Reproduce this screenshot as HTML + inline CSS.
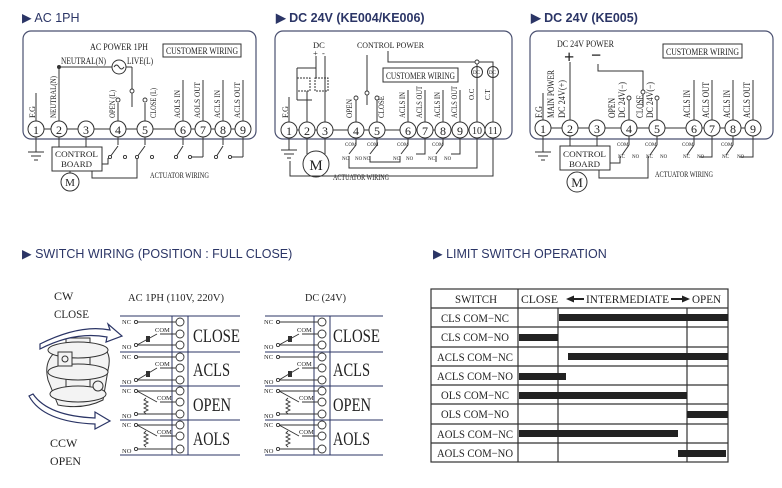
<!DOCTYPE html>
<html><head><meta charset="utf-8"><style>
html,body{margin:0;padding:0;background:#fff;}
svg{display:block;}
.h{font-family:"Liberation Sans",sans-serif;font-size:12.5px;fill:#2b3566;}
.s{font-family:"Liberation Serif",serif;fill:#222;}
</style></head><body>
<svg width="782" height="488" viewBox="0 0 782 488" xmlns="http://www.w3.org/2000/svg">
<g class="h">
<text x="22" y="22">▶  AC 1PH</text>
<text x="276" y="22" font-weight="bold">▶  DC 24V (KE004/KE006)</text>
<text x="531" y="22" font-weight="bold">▶  DC 24V (KE005)</text>
<text x="22" y="258">▶  SWITCH WIRING (POSITION : FULL CLOSE)</text>
<text x="433" y="258">▶  LIMIT SWITCH OPERATION</text>
</g>

<g fill="none" stroke="#4a5070" stroke-width="1.2">
<rect x="23" y="31" width="233" height="108" rx="8"/>
<rect x="275" y="31" width="237" height="108" rx="8"/>
<rect x="530" y="31" width="243" height="108" rx="8"/>
</g>

<!-- ===== BOX 1 ===== -->
<g stroke="#333" stroke-width="1" fill="none">
<line x1="36" y1="129" x2="243" y2="129"/>
<line x1="59" y1="67" x2="59" y2="121"/>
<line x1="59" y1="67" x2="112" y2="67"/>
<circle cx="119" cy="67" r="7"/>
<path d="M114 67 q2.5 -4 5 0 t5 0"/>
<line x1="126" y1="67" x2="132" y2="67"/><line x1="132" y1="67" x2="132" y2="107"/>
<line x1="36" y1="93" x2="36" y2="121"/>
<line x1="118" y1="103" x2="118" y2="121"/><line x1="145" y1="103" x2="145" y2="121"/>
<line x1="183" y1="80" x2="183" y2="121"/><line x1="203" y1="80" x2="203" y2="121"/>
<line x1="223" y1="80" x2="223" y2="121"/><line x1="243" y1="80" x2="243" y2="121"/>
<rect x="163" y="44" width="78" height="13"/>
<line x1="36" y1="137" x2="36" y2="152"/>
<line x1="28" y1="152" x2="44" y2="152"/><line x1="31" y1="156" x2="41" y2="156"/><line x1="34" y1="160" x2="38" y2="160"/>
<rect x="52" y="147" width="50" height="24"/>
<circle cx="70" cy="182" r="9"/>
<line x1="70" y1="171" x2="70" y2="173"/>
<line x1="59" y1="137" x2="59" y2="147"/><line x1="86" y1="137" x2="86" y2="147"/>
<line x1="118" y1="137" x2="118" y2="145"/><line x1="145" y1="137" x2="145" y2="145"/>
<line x1="183" y1="137" x2="183" y2="145"/><line x1="203" y1="137" x2="203" y2="157"/>
<line x1="223" y1="137" x2="223" y2="145"/><line x1="243" y1="137" x2="243" y2="157"/>
<line x1="118" y1="146" x2="110" y2="157"/><line x1="145" y1="146" x2="137" y2="157"/>
<line x1="183" y1="146" x2="176" y2="157"/><line x1="223" y1="146" x2="216" y2="157"/>
<path d="M102 164 H108 V158"/><path d="M92 171 V178 H137 V158"/>
<line x1="190" y1="157" x2="203" y2="157"/><line x1="230" y1="157" x2="243" y2="157"/>
</g>
<g fill="#fff" stroke="#333" stroke-width="0.9">
<circle cx="118" cy="100" r="2"/><circle cx="145" cy="100" r="2"/><circle cx="132" cy="91" r="2"/>
<circle cx="125" cy="157" r="1.6"/><circle cx="152" cy="157" r="1.6"/><circle cx="190" cy="157" r="1.6"/><circle cx="230" cy="157" r="1.6"/>
<circle cx="110" cy="157" r="1.6"/><circle cx="137" cy="157" r="1.6"/><circle cx="176" cy="157" r="1.6"/><circle cx="216" cy="157" r="1.6"/>
</g>
<circle cx="59" cy="67" r="2" fill="#333"/>
<g class="s" font-size="9" lengthAdjust="spacingAndGlyphs">
<text x="90" y="50" textLength="58" lengthAdjust="spacingAndGlyphs">AC POWER 1PH</text>
<text x="166" y="54" textLength="72" lengthAdjust="spacingAndGlyphs">CUSTOMER WIRING</text>
<text x="61" y="64" textLength="45" lengthAdjust="spacingAndGlyphs">NEUTRAL(N)</text>
<text x="127" y="64" textLength="26" lengthAdjust="spacingAndGlyphs">LIVE(L)</text>
<text x="150" y="178" font-size="8" textLength="59" lengthAdjust="spacingAndGlyphs">ACTUATOR WIRING</text>
<text x="70" y="186" font-size="11" text-anchor="middle">M</text>
<text x="55" y="157" font-size="8.5" textLength="43" lengthAdjust="spacingAndGlyphs">CONTROL</text>
<text x="61" y="167" font-size="8.5" textLength="31" lengthAdjust="spacingAndGlyphs">BOARD</text>
</g>
<g class="s" font-size="8.5">
<text transform="translate(35,118) rotate(-90)" textLength="12" lengthAdjust="spacingAndGlyphs">F.G</text>
<text transform="translate(56,118) rotate(-90)" textLength="42" lengthAdjust="spacingAndGlyphs">NEUTRAL(N)</text>
<text transform="translate(115,118) rotate(-90)" textLength="28" lengthAdjust="spacingAndGlyphs">OPEN (L)</text>
<text transform="translate(156,118) rotate(-90)" textLength="30" lengthAdjust="spacingAndGlyphs">CLOSE (L)</text>
<text transform="translate(180,118) rotate(-90)" textLength="28" lengthAdjust="spacingAndGlyphs">AOLS IN</text>
<text transform="translate(200,118) rotate(-90)" textLength="36" lengthAdjust="spacingAndGlyphs">AOLS OUT</text>
<text transform="translate(220,118) rotate(-90)" textLength="28" lengthAdjust="spacingAndGlyphs">ACLS IN</text>
<text transform="translate(240,118) rotate(-90)" textLength="36" lengthAdjust="spacingAndGlyphs">ACLS OUT</text>
</g>
<g stroke="#333" fill="#fff">
<circle cx="36" cy="129" r="8"/><circle cx="59" cy="129" r="8"/><circle cx="86" cy="129" r="8"/><circle cx="118" cy="129" r="8"/><circle cx="145" cy="129" r="8"/><circle cx="183" cy="129" r="8"/><circle cx="203" cy="129" r="8"/><circle cx="223" cy="129" r="8"/><circle cx="243" cy="129" r="8"/>
</g>
<g class="s" font-size="12" text-anchor="middle">
<text x="36" y="134">1</text><text x="59" y="134">2</text><text x="86" y="134">3</text><text x="118" y="134">4</text><text x="145" y="134">5</text><text x="183" y="134">6</text><text x="203" y="134">7</text><text x="223" y="134">8</text><text x="243" y="134">9</text>
</g>

<!-- ===== BOX 2 ===== -->
<g stroke="#333" stroke-width="1" fill="none">
<line x1="289" y1="130" x2="493" y2="130"/>
<line x1="289" y1="97" x2="289" y2="122"/>
<line x1="316" y1="56" x2="316" y2="68"/><line x1="325" y1="56" x2="325" y2="74"/>
<path d="M297 68 H316 V78"/><line x1="297" y1="68" x2="297" y2="100"/><line x1="325" y1="74" x2="325" y2="122"/>
<rect x="297" y="78" width="13" height="13" stroke-dasharray="2 1"/><rect x="315" y="78" width="13" height="13" stroke-dasharray="2 1"/>
<line x1="307" y1="91" x2="307" y2="122"/><path d="M297 100 H312"/>
<line x1="367" y1="55" x2="367" y2="105"/>
<path d="M388 51 V62 H493 V122"/><line x1="477" y1="62" x2="477" y2="122"/>
<circle cx="477" cy="72" r="5.5"/><circle cx="493" cy="72" r="5.5"/>
<rect x="383" y="68" width="75" height="14"/>
<line x1="356" y1="100" x2="356" y2="122"/><line x1="377" y1="100" x2="377" y2="122"/>
<line x1="408" y1="90" x2="408" y2="122"/><line x1="425" y1="90" x2="425" y2="122"/><line x1="443" y1="90" x2="443" y2="122"/><line x1="460" y1="90" x2="460" y2="122"/>
<line x1="289" y1="138" x2="289" y2="150"/>
<line x1="281" y1="150" x2="297" y2="150"/><line x1="284" y1="154" x2="294" y2="154"/><line x1="287" y1="158" x2="291" y2="158"/>
<circle cx="316" cy="164" r="13"/>
<line x1="307" y1="138" x2="307" y2="154"/><line x1="325" y1="138" x2="325" y2="154"/>
<line x1="356" y1="138" x2="356" y2="145"/><line x1="356" y1="145" x2="349" y2="154"/>
<line x1="377" y1="138" x2="377" y2="145"/><line x1="377" y1="145" x2="370" y2="154"/>
<line x1="408" y1="138" x2="408" y2="145"/><line x1="408" y1="145" x2="401" y2="154"/>
<line x1="443" y1="138" x2="443" y2="145"/><line x1="443" y1="145" x2="436" y2="154"/>
<path d="M425 138 V154 H416"/><path d="M460 138 V154 H451"/>
<path d="M349 156 V168 H477 V138"/><path d="M370 156 V162 H400 V156"/><path d="M436 156 V162"/>
<path d="M290 161 V176 H493 V138"/>
</g>
<g fill="#fff" stroke="#333" stroke-width="0.9">
<circle cx="367" cy="93" r="2"/><circle cx="356" cy="98" r="2"/><circle cx="377" cy="98" r="2"/><circle cx="477" cy="62" r="2"/>
</g>
<g class="s" font-size="8.5">
<text x="313" y="48">DC</text><text x="313" y="56">+</text><text x="322" y="56">-</text>
<text x="357" y="48" textLength="67" lengthAdjust="spacingAndGlyphs">CONTROL POWER</text>
<text x="386" y="79" font-size="9" textLength="69" lengthAdjust="spacingAndGlyphs">CUSTOMER WIRING</text>
<text x="333" y="180" font-size="8" textLength="56" lengthAdjust="spacingAndGlyphs">ACTUATOR WIRING</text>
<text x="316" y="170" font-size="15" text-anchor="middle">M</text>
<text x="473" y="74" font-size="5">DC</text><text x="489" y="74" font-size="5">DC</text>
<text transform="translate(288,118) rotate(-90)" textLength="12" lengthAdjust="spacingAndGlyphs">F.G</text>
<text transform="translate(352,118) rotate(-90)" textLength="19" lengthAdjust="spacingAndGlyphs">OPEN</text>
<text transform="translate(384,118) rotate(-90)" textLength="22" lengthAdjust="spacingAndGlyphs">CLOSE</text>
<text transform="translate(405,118) rotate(-90)" textLength="26" lengthAdjust="spacingAndGlyphs">ACLS IN</text>
<text transform="translate(422,118) rotate(-90)" textLength="32" lengthAdjust="spacingAndGlyphs">ACLS OUT</text>
<text transform="translate(440,118) rotate(-90)" textLength="26" lengthAdjust="spacingAndGlyphs">ACLS IN</text>
<text transform="translate(457,118) rotate(-90)" textLength="32" lengthAdjust="spacingAndGlyphs">ACLS OUT</text>
<text transform="translate(474,100) rotate(-90)" font-size="7">O.C</text>
<text transform="translate(490,100) rotate(-90)" font-size="7">C.T</text>
</g>
<g class="s" font-size="5">
<text x="345" y="146">COM</text><text x="367" y="146">COM</text><text x="397" y="146">COM</text><text x="432" y="146">COM</text>
<text x="342" y="160">NC</text><text x="355" y="160">NO</text><text x="363" y="160">NO</text><text x="393" y="160">NC</text><text x="406" y="160">NO</text><text x="428" y="160">NC</text><text x="444" y="160">NO</text>
</g>
<g stroke="#333" fill="#fff">
<circle cx="289" cy="130" r="8"/><circle cx="307" cy="130" r="8"/><circle cx="325" cy="130" r="8"/><circle cx="356" cy="130" r="8"/><circle cx="377" cy="130" r="8"/><circle cx="408" cy="130" r="8"/><circle cx="425" cy="130" r="8"/><circle cx="443" cy="130" r="8"/><circle cx="460" cy="130" r="8"/><circle cx="477" cy="130" r="8"/><circle cx="493" cy="130" r="8"/>
</g>
<g class="s" font-size="12" text-anchor="middle">
<text x="289" y="135">1</text><text x="307" y="135">2</text><text x="325" y="135">3</text><text x="356" y="135">4</text><text x="377" y="135">5</text><text x="408" y="135">6</text><text x="425" y="135">7</text><text x="443" y="135">8</text><text x="460" y="135">9</text><text x="477" y="134" font-size="10">10</text><text x="493" y="134" font-size="10">11</text>
</g>

<!-- ===== BOX 3 ===== -->
<g stroke="#333" stroke-width="1" fill="none">
<line x1="543" y1="128" x2="753" y2="128"/>
<line x1="543" y1="93" x2="543" y2="120"/>
<line x1="570" y1="62" x2="570" y2="120"/>
<path d="M598 64 V71 H643 V107"/>
<rect x="663" y="44" width="79" height="14"/>
<line x1="629" y1="100" x2="629" y2="120"/><line x1="657" y1="100" x2="657" y2="120"/>
<line x1="694" y1="80" x2="694" y2="120"/><line x1="712" y1="80" x2="712" y2="120"/><line x1="733" y1="80" x2="733" y2="120"/><line x1="753" y1="80" x2="753" y2="120"/>
<line x1="543" y1="136" x2="543" y2="152"/>
<line x1="535" y1="152" x2="551" y2="152"/><line x1="538" y1="156" x2="548" y2="156"/><line x1="541" y1="160" x2="545" y2="160"/>
<rect x="560" y="146" width="50" height="24"/>
<circle cx="577" cy="182" r="10"/>
<line x1="570" y1="136" x2="570" y2="146"/><line x1="597" y1="136" x2="597" y2="146"/>
<line x1="629" y1="136" x2="629" y2="145"/><line x1="629" y1="145" x2="622" y2="155"/>
<line x1="657" y1="136" x2="657" y2="145"/><line x1="657" y1="145" x2="650" y2="155"/>
<line x1="694" y1="136" x2="694" y2="145"/><line x1="694" y1="145" x2="687" y2="155"/>
<line x1="733" y1="136" x2="733" y2="145"/><line x1="733" y1="145" x2="726" y2="155"/>
<path d="M610 163 H620 V156"/><path d="M599 170 V178 H648 V156"/>
<path d="M700 157 H712 V136"/><path d="M740 157 H753 V136"/>
</g>
<g fill="#fff" stroke="#333" stroke-width="0.9">
<circle cx="629" cy="98" r="2"/><circle cx="657" cy="98" r="2"/><circle cx="643" cy="92" r="2"/>
</g>
<g class="s" font-size="9">
<text x="557" y="47" textLength="57" lengthAdjust="spacingAndGlyphs">DC 24V POWER</text>
<text x="564" y="63" font-size="18" font-weight="bold">+</text>
<text x="591" y="61" font-size="18" font-weight="bold">−</text>
<text x="666" y="55" textLength="73" lengthAdjust="spacingAndGlyphs">CUSTOMER WIRING</text>
<text x="563" y="157" font-size="8.5" textLength="43" lengthAdjust="spacingAndGlyphs">CONTROL</text>
<text x="569" y="167" font-size="8.5" textLength="31" lengthAdjust="spacingAndGlyphs">BOARD</text>
<text x="577" y="187" font-size="13" text-anchor="middle">M</text>
<text x="655" y="177" font-size="8" textLength="58" lengthAdjust="spacingAndGlyphs">ACTUATOR WIRING</text>
<text transform="translate(542,118) rotate(-90)" textLength="12" lengthAdjust="spacingAndGlyphs">F.G</text>
<text transform="translate(554,118) rotate(-90)" textLength="48" lengthAdjust="spacingAndGlyphs">MAIN POWER</text>
<text transform="translate(565,118) rotate(-90)" textLength="38" lengthAdjust="spacingAndGlyphs">DC 24V(+)</text>
<text transform="translate(615,118) rotate(-90)" textLength="20" lengthAdjust="spacingAndGlyphs">OPEN</text>
<text transform="translate(625,118) rotate(-90)" textLength="36" lengthAdjust="spacingAndGlyphs">DC 24V(−)</text>
<text transform="translate(643,118) rotate(-90)" textLength="23" lengthAdjust="spacingAndGlyphs">CLOSE</text>
<text transform="translate(653,118) rotate(-90)" textLength="36" lengthAdjust="spacingAndGlyphs">DC 24V(−)</text>
<text transform="translate(690,118) rotate(-90)" textLength="28" lengthAdjust="spacingAndGlyphs">ACLS IN</text>
<text transform="translate(709,118) rotate(-90)" textLength="36" lengthAdjust="spacingAndGlyphs">ACLS OUT</text>
<text transform="translate(730,118) rotate(-90)" textLength="28" lengthAdjust="spacingAndGlyphs">ACLS IN</text>
<text transform="translate(750,118) rotate(-90)" textLength="36" lengthAdjust="spacingAndGlyphs">ACLS OUT</text>
</g>
<g class="s" font-size="5">
<text x="617" y="146">COM</text><text x="645" y="146">COM</text><text x="682" y="146">COM</text><text x="721" y="146">COM</text>
<text x="618" y="158">NC</text><text x="632" y="158">NO</text><text x="646" y="158">NC</text><text x="660" y="158">NO</text><text x="683" y="158">NC</text><text x="697" y="158">NO</text><text x="722" y="158">NC</text><text x="737" y="158">NO</text>
</g>
<g stroke="#333" fill="#fff">
<circle cx="543" cy="128" r="8"/><circle cx="570" cy="128" r="8"/><circle cx="597" cy="128" r="8"/><circle cx="629" cy="128" r="8"/><circle cx="657" cy="128" r="8"/><circle cx="694" cy="128" r="8"/><circle cx="712" cy="128" r="8"/><circle cx="733" cy="128" r="8"/><circle cx="753" cy="128" r="8"/>
</g>
<g class="s" font-size="12" text-anchor="middle">
<text x="543" y="133">1</text><text x="570" y="133">2</text><text x="597" y="133">3</text><text x="629" y="133">4</text><text x="657" y="133">5</text><text x="694" y="133">6</text><text x="712" y="133">7</text><text x="733" y="133">8</text><text x="753" y="133">9</text>
</g>

<!-- ===== SWITCH WIRING ===== -->
<g class="s" font-size="12">
<text x="54" y="300">CW</text><text x="54" y="318" textLength="35" lengthAdjust="spacingAndGlyphs">CLOSE</text>
<text x="50" y="447">CCW</text><text x="50" y="465" textLength="31" lengthAdjust="spacingAndGlyphs">OPEN</text>
<text x="128" y="301" font-size="11" textLength="96" lengthAdjust="spacingAndGlyphs">AC 1PH (110V, 220V)</text>
<text x="305" y="301" font-size="11" textLength="41" lengthAdjust="spacingAndGlyphs">DC (24V)</text>
</g>
<!-- actuator sketch -->
<g stroke="#333" stroke-width="1" fill="#f3f3f3">
<path d="M48 380 q-5 -20 10 -30 l40 -5 q15 5 10 25 l-5 30 q-20 10 -45 5 z"/>
<rect x="66" y="338" width="24" height="60"/>
<ellipse cx="78" cy="350" rx="30" ry="8"/>
<ellipse cx="78" cy="372" rx="30" ry="8"/>
<ellipse cx="78" cy="394" rx="28" ry="8"/>
<rect x="58" y="352" width="14" height="14"/>
<circle cx="65" cy="359" r="3"/>
<circle cx="98" cy="386" r="5"/>
</g>
<g stroke="#2b3566" stroke-width="1.2" fill="#fff">
<path d="M40 344 q40 -20 70 -14 l-2 -6 l14 12 l-16 6 l1 -5 q-32 -6 -67 12 z"/>
<path d="M33 394 q15 22 62 24 l0 -6 l15 9 l-15 8 l0 -5 q-52 -2 -66 -28 z"/>
</g>

<!-- switch tables -->
<g stroke="#2b3566" stroke-width="1" fill="none">
<line x1="120" y1="316" x2="240" y2="316"/><line x1="120" y1="352" x2="240" y2="352"/><line x1="120" y1="386" x2="240" y2="386"/><line x1="120" y1="420" x2="240" y2="420"/><line x1="120" y1="455" x2="240" y2="455"/>
<line x1="172" y1="316" x2="172" y2="455"/><line x1="188" y1="316" x2="188" y2="455"/>
<line x1="265" y1="316" x2="383" y2="316"/><line x1="265" y1="352" x2="383" y2="352"/><line x1="265" y1="386" x2="383" y2="386"/><line x1="265" y1="420" x2="383" y2="420"/><line x1="265" y1="455" x2="383" y2="455"/>
<line x1="314" y1="316" x2="314" y2="455"/><line x1="330" y1="316" x2="330" y2="455"/>
</g>
<g stroke="#333" stroke-width="0.9" fill="none">
<path d="M137 322 H176 M160 334 H176 M137 345 H176 M137 345 L157 334"/>
<path d="M137 357 H176 M160 368 H176 M137 380 H176 M137 380 L157 368"/>
<path d="M137 391 H176 M160 402 H176 M137 414 H176 M137 391 L157 402"/>
<path d="M137 425 H176 M160 436 H176 M137 449 H176 M137 425 L157 436"/>
<path d="M279 322 H318 M302 334 H318 M279 345 H318 M279 345 L299 334"/>
<path d="M279 357 H318 M302 368 H318 M279 380 H318 M279 380 L299 368"/>
<path d="M279 391 H318 M302 402 H318 M279 414 H318 M279 391 L299 402"/>
<path d="M279 425 H318 M302 436 H318 M279 449 H318 M279 425 L299 436"/>
<path d="M146 398 l-2 2 l4 2 l-4 2 l4 2 l-4 2 l4 2 l-4 2 l2 2"/>
<path d="M146 431 l-2 2 l4 2 l-4 2 l4 2 l-4 2 l4 2 l-4 2 l2 2"/>
<path d="M288 398 l-2 2 l4 2 l-4 2 l4 2 l-4 2 l4 2 l-4 2 l2 2"/>
<path d="M288 431 l-2 2 l4 2 l-4 2 l4 2 l-4 2 l4 2 l-4 2 l2 2"/>
</g>
<g fill="#333">
<rect x="146" y="336" width="4" height="6"/><rect x="146" y="371" width="4" height="6"/>
<rect x="288" y="336" width="4" height="6"/><rect x="288" y="371" width="4" height="6"/>
</g>
<g fill="#fff" stroke="#333" stroke-width="0.9">
<circle cx="136" cy="322" r="1.6"/><circle cx="136" cy="345" r="1.6"/><circle cx="136" cy="357" r="1.6"/><circle cx="136" cy="380" r="1.6"/><circle cx="136" cy="391" r="1.6"/><circle cx="136" cy="414" r="1.6"/><circle cx="136" cy="425" r="1.6"/><circle cx="136" cy="449" r="1.6"/>
<circle cx="278" cy="322" r="1.6"/><circle cx="278" cy="345" r="1.6"/><circle cx="278" cy="357" r="1.6"/><circle cx="278" cy="380" r="1.6"/><circle cx="278" cy="391" r="1.6"/><circle cx="278" cy="414" r="1.6"/><circle cx="278" cy="425" r="1.6"/><circle cx="278" cy="449" r="1.6"/>
<circle cx="180" cy="322" r="4"/><circle cx="180" cy="334" r="4"/><circle cx="180" cy="345" r="4"/><circle cx="180" cy="357" r="4"/><circle cx="180" cy="368" r="4"/><circle cx="180" cy="380" r="4"/><circle cx="180" cy="391" r="4"/><circle cx="180" cy="402" r="4"/><circle cx="180" cy="414" r="4"/><circle cx="180" cy="425" r="4"/><circle cx="180" cy="436" r="4"/><circle cx="180" cy="449" r="4"/>
<circle cx="322" cy="322" r="4"/><circle cx="322" cy="334" r="4"/><circle cx="322" cy="345" r="4"/><circle cx="322" cy="357" r="4"/><circle cx="322" cy="368" r="4"/><circle cx="322" cy="380" r="4"/><circle cx="322" cy="391" r="4"/><circle cx="322" cy="402" r="4"/><circle cx="322" cy="414" r="4"/><circle cx="322" cy="425" r="4"/><circle cx="322" cy="436" r="4"/><circle cx="322" cy="449" r="4"/>
</g>
<g class="s" font-size="6.5">
<text x="122" y="324">NC</text><text x="122" y="349">NO</text><text x="122" y="359">NC</text><text x="122" y="384">NO</text><text x="122" y="393">NC</text><text x="122" y="418">NO</text><text x="122" y="427">NC</text><text x="122" y="453">NO</text>
<text x="264" y="324">NC</text><text x="264" y="349">NO</text><text x="264" y="359">NC</text><text x="264" y="384">NO</text><text x="264" y="393">NC</text><text x="264" y="418">NO</text><text x="264" y="427">NC</text><text x="264" y="453">NO</text>
<text x="155" y="332">COM</text><text x="155" y="366">COM</text><text x="157" y="400">COM</text><text x="157" y="434">COM</text>
<text x="297" y="332">COM</text><text x="297" y="366">COM</text><text x="299" y="400">COM</text><text x="299" y="434">COM</text>
</g>
<g class="s" font-size="19">
<text x="193" y="342" textLength="47" lengthAdjust="spacingAndGlyphs">CLOSE</text>
<text x="193" y="376" textLength="37" lengthAdjust="spacingAndGlyphs">ACLS</text>
<text x="193" y="411" textLength="38" lengthAdjust="spacingAndGlyphs">OPEN</text>
<text x="193" y="445" textLength="37" lengthAdjust="spacingAndGlyphs">AOLS</text>
<text x="333" y="342" textLength="47" lengthAdjust="spacingAndGlyphs">CLOSE</text>
<text x="333" y="376" textLength="37" lengthAdjust="spacingAndGlyphs">ACLS</text>
<text x="333" y="411" textLength="38" lengthAdjust="spacingAndGlyphs">OPEN</text>
<text x="333" y="445" textLength="37" lengthAdjust="spacingAndGlyphs">AOLS</text>
</g>

<!-- ===== LIMIT SWITCH TABLE ===== -->
<g stroke="#333" stroke-width="1.2" fill="none">
<rect x="431" y="289" width="297" height="173"/>
<line x1="518" y1="289" x2="518" y2="462"/>
<line x1="558" y1="308" x2="558" y2="462"/>
<line x1="687" y1="308" x2="687" y2="462"/>
<line x1="431" y1="308" x2="728" y2="308"/><line x1="431" y1="327" x2="728" y2="327"/><line x1="431" y1="347" x2="728" y2="347"/><line x1="431" y1="366" x2="728" y2="366"/><line x1="431" y1="385" x2="728" y2="385"/><line x1="431" y1="404" x2="728" y2="404"/><line x1="431" y1="424" x2="728" y2="424"/><line x1="431" y1="443" x2="728" y2="443"/>
</g>
<g fill="#222">
<rect x="559" y="314" width="169" height="7"/>
<rect x="519" y="334" width="39" height="7"/>
<rect x="568" y="353" width="160" height="7"/>
<rect x="519" y="373" width="47" height="7"/>
<rect x="519" y="392" width="168" height="7"/>
<rect x="687" y="411" width="41" height="7"/>
<rect x="519" y="430" width="159" height="7"/>
<rect x="678" y="450" width="48" height="7"/>
<path d="M566 299 l8 -3.5 v7 z M574 298 h10 v2 h-10 z M690 299 l-8 -3.5 v7 z M671 298 h11 v2 h-11 z"/>
</g>
<g class="s" font-size="11.5">
<text x="455" y="303" textLength="42" lengthAdjust="spacingAndGlyphs">SWITCH</text>
<text x="521" y="303" textLength="37" lengthAdjust="spacingAndGlyphs">CLOSE</text>
<text x="586" y="303" textLength="83" lengthAdjust="spacingAndGlyphs">INTERMEDIATE</text>
<text x="692" y="303" textLength="29" lengthAdjust="spacingAndGlyphs">OPEN</text>
<text x="441" y="322" textLength="68" lengthAdjust="spacingAndGlyphs">CLS COM−NC</text>
<text x="441" y="341" textLength="68" lengthAdjust="spacingAndGlyphs">CLS COM−NO</text>
<text x="437" y="361" textLength="76" lengthAdjust="spacingAndGlyphs">ACLS COM−NC</text>
<text x="437" y="380" textLength="76" lengthAdjust="spacingAndGlyphs">ACLS COM−NO</text>
<text x="441" y="399" textLength="68" lengthAdjust="spacingAndGlyphs">OLS COM−NC</text>
<text x="441" y="418" textLength="68" lengthAdjust="spacingAndGlyphs">OLS COM−NO</text>
<text x="437" y="438" textLength="76" lengthAdjust="spacingAndGlyphs">AOLS COM−NC</text>
<text x="437" y="457" textLength="76" lengthAdjust="spacingAndGlyphs">AOLS COM−NO</text>
</g>
</svg>
</body></html>
